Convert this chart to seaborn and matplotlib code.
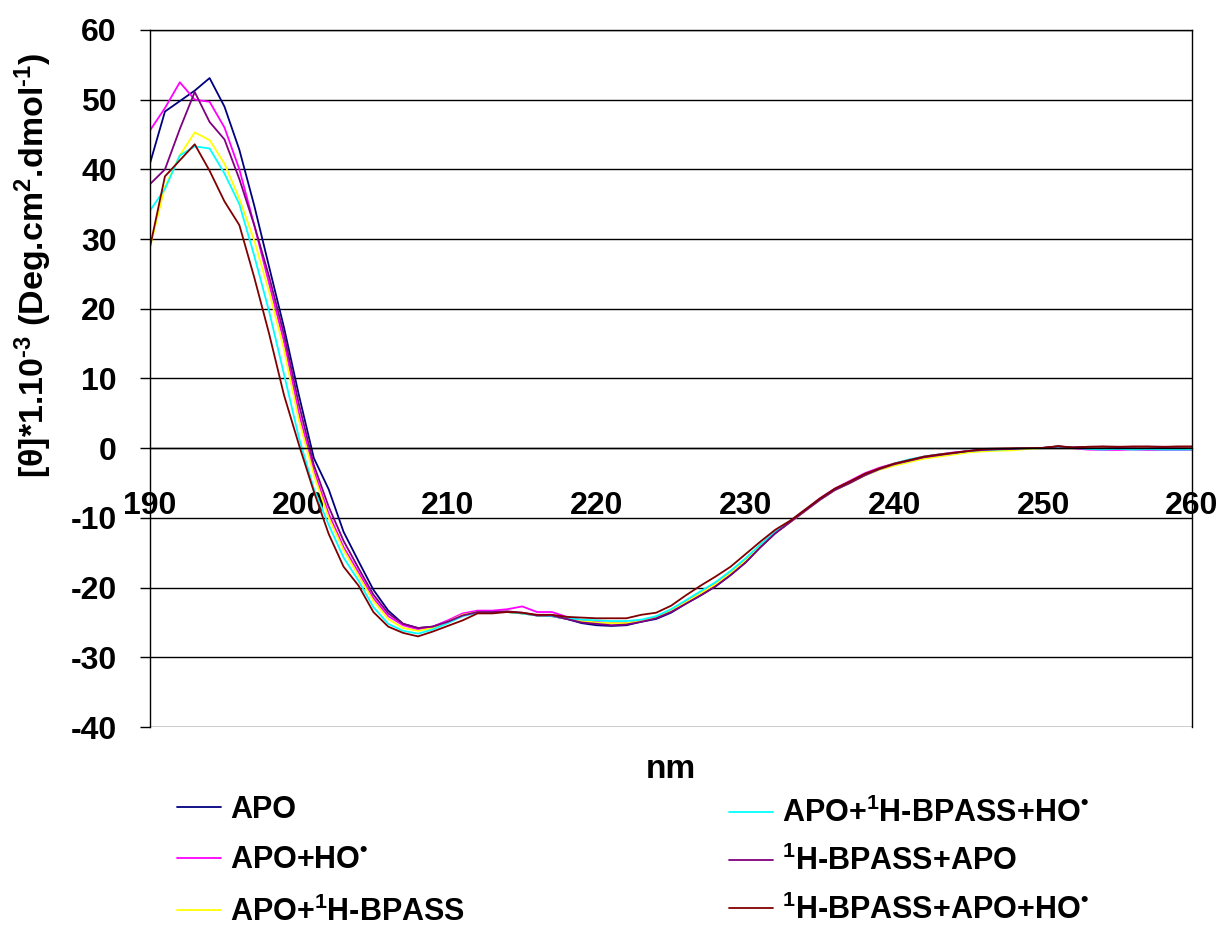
#!/usr/bin/env python3

import pandas as pd
import matplotlib
matplotlib.use("Agg")
import matplotlib.pyplot as plt
import seaborn as sns

# wavelength (nm) and molar ellipticity *1e-3
nm = list(range(190, 261))

apo = [40.9, 48.3, 49.8, 51.3, 53.1, 49.0, 42.8, 34.8, 26.0, 17.3,
       7.6, -1.4, -5.9, -12.0, -16.2, -20.3, -23.3, -25.2, -25.8, -25.6,
       -24.8, -23.9, -23.5, -23.5, -23.5, -23.7, -24.0, -24.1, -24.5, -25.1,
       -25.4, -25.5, -25.4, -24.9, -24.5, -23.6, -22.3, -21.1, -19.8, -18.2,
       -16.4, -14.2, -12.2, -10.6, -9.0, -7.4, -6.0, -5.0, -3.9, -3.0,
       -2.3, -1.8, -1.3, -1.0, -0.7, -0.4, -0.25, -0.15, -0.1, 0.0,
       0.05, 0.25, 0.1, 0.15, 0.2, 0.2, 0.15, 0.2, 0.2, 0.15, 0.2]

apo_ho = [45.6, 48.8, 52.5, 50.0, 49.7, 46.0, 40.0, 32.0, 23.6, 15.3,
          5.0, -3.2, -9.4, -14.2, -17.8, -21.5, -24.1, -25.4, -26.0, -25.6,
          -24.7, -23.7, -23.3, -23.3, -23.1, -22.7, -23.5, -23.5, -24.2, -24.7,
          -24.9, -25.1, -25.1, -24.8, -24.3, -23.3, -22.0, -20.8, -19.4, -17.8,
          -16.0, -13.9, -12.0, -10.5, -8.9, -7.2, -5.8, -4.7, -3.6, -2.8,
          -2.2, -1.7, -1.2, -0.9, -0.6, -0.4, -0.25, -0.15, -0.1, 0.0,
          0.0, 0.2, 0.0, -0.2, -0.25, -0.25, -0.2, -0.25, -0.25, -0.25, -0.25]

apo_bpass = [28.9, 37.5, 42.0, 45.3, 44.2, 40.8, 35.8, 29.8, 22.4, 14.1,
             4.0, -3.8, -10.0, -14.6, -18.3, -21.9, -24.5, -25.8, -26.2, -25.8,
             -24.9, -23.9, -23.5, -23.5, -23.5, -23.7, -24.0, -24.1, -24.4, -24.8,
             -25.0, -25.1, -25.1, -24.8, -24.3, -23.3, -22.1, -20.8, -19.5, -17.9,
             -16.1, -14.0, -12.1, -10.6, -9.0, -7.4, -6.0, -5.0, -3.9, -3.1,
             -2.5, -2.0, -1.5, -1.2, -0.9, -0.6, -0.45, -0.35, -0.3, -0.1,
             0.0, 0.2, 0.0, 0.05, 0.1, 0.05, 0.0, 0.1, 0.05, 0.0, 0.05]

apo_bpass_ho = [34.1, 37.2, 42.0, 43.3, 43.0, 39.4, 35.0, 27.6, 19.6, 10.6,
                1.5, -5.8, -11.0, -15.7, -19.0, -22.8, -25.2, -26.2, -26.6, -26.0,
                -25.1, -24.1, -23.6, -23.5, -23.5, -23.7, -24.0, -24.1, -24.4, -24.6,
                -24.7, -24.8, -24.8, -24.6, -24.1, -23.1, -21.8, -20.5, -19.2, -17.6,
                -15.8, -13.8, -12.0, -10.5, -8.9, -7.3, -5.9, -4.9, -3.8, -3.0,
                -2.2, -1.6, -1.2, -0.9, -0.7, -0.4, -0.25, -0.2, -0.1, 0.0,
                0.0, 0.2, 0.05, -0.1, -0.2, -0.1, -0.2, -0.15, -0.2, -0.2, -0.2]

bpass_apo = [37.9, 40.0, 45.8, 51.1, 46.8, 44.3, 38.6, 32.0, 24.6, 16.3,
             6.3, -2.4, -8.4, -13.3, -17.2, -21.0, -23.7, -25.2, -25.8, -25.6,
             -24.9, -24.0, -23.5, -23.5, -23.4, -23.6, -24.0, -24.0, -24.5, -25.0,
             -25.2, -25.4, -25.3, -24.9, -24.4, -23.5, -22.3, -21.1, -19.8, -18.2,
             -16.4, -14.2, -12.2, -10.6, -9.0, -7.4, -6.0, -5.0, -3.9, -3.0,
             -2.3, -1.8, -1.3, -1.0, -0.7, -0.4, -0.25, -0.15, -0.1, 0.0,
             0.05, 0.25, 0.1, 0.2, 0.2, 0.15, 0.2, 0.2, 0.15, 0.2, 0.2]

bpass_apo_ho = [28.9, 39.0, 41.3, 43.6, 39.8, 35.4, 32.0, 24.5, 16.4, 7.6,
                0.5, -6.2, -12.3, -17.0, -19.7, -23.5, -25.6, -26.5, -27.0, -26.3,
                -25.5, -24.7, -23.7, -23.7, -23.5, -23.6, -23.9, -23.9, -24.2, -24.3,
                -24.4, -24.4, -24.4, -23.9, -23.6, -22.6, -21.1, -19.7, -18.4, -17.0,
                -15.2, -13.4, -11.7, -10.4, -8.8, -7.2, -5.8, -4.8, -3.7, -2.9,
                -2.2, -1.7, -1.2, -0.9, -0.65, -0.4, -0.1, -0.05, 0.0, 0.0,
                0.05, 0.3, 0.1, 0.2, 0.25, 0.2, 0.25, 0.25, 0.2, 0.25, 0.25]

labels = [
    "APO",
    "APO+HO$^{•}$",
    "APO+$^{1}$H-BPASS",
    "APO+$^{1}$H-BPASS+HO$^{•}$",
    "$^{1}$H-BPASS+APO",
    "$^{1}$H-BPASS+APO+HO$^{•}$",
]
colors = ["#000080", "#FF00FF", "#FFFF00", "#00FFFF", "#800080", "#800000"]
series = [apo, apo_ho, apo_bpass, apo_bpass_ho, bpass_apo, bpass_apo_ho]

df = pd.concat(
    [pd.DataFrame({"nm": nm, "theta": vals, "sample": lab})
     for lab, vals in zip(labels, series)],
    ignore_index=True,
)

sns.set_style("white")
plt.rcParams["font.family"] = ["Liberation Sans", "DejaVu Sans"]
plt.rcParams["font.weight"] = "bold"
plt.rcParams["text.color"] = "black"
plt.rcParams["axes.labelcolor"] = "black"
plt.rcParams["xtick.color"] = "black"
plt.rcParams["ytick.color"] = "black"
plt.rcParams["axes.unicode_minus"] = False
plt.rcParams["mathtext.fontset"] = "custom"
plt.rcParams["mathtext.rm"] = "Liberation Sans:bold"
plt.rcParams["mathtext.it"] = "Liberation Sans:bold"
plt.rcParams["mathtext.bf"] = "Liberation Sans:bold"

fig, ax = plt.subplots(figsize=(12.21, 9.31), dpi=100)
fig.subplots_adjust(left=0.1229, right=0.9763, top=0.9678, bottom=0.2191)

sns.lineplot(data=df, x="nm", y="theta", hue="sample", hue_order=labels,
             palette=colors, estimator=None, sort=False, linewidth=1.3,
             legend=False, ax=ax)

ax.set_xlim(190, 260)
ax.set_ylim(-40, 60)
ax.set_xticks(range(190, 261, 10))
ax.set_yticks(range(-40, 61, 10))
ax.set_axisbelow(True)
ax.yaxis.grid(True, color="black", linewidth=1)
ax.xaxis.grid(False)
for s in ax.spines.values():
    s.set_color("black")
    s.set_linewidth(1)
ax.spines["bottom"].set_position(("data", 0))

ax.tick_params(axis="x", direction="out", length=9.5, width=1, pad=21,
               labelsize=23, colors="black")
ax.tick_params(axis="y", direction="out", length=7, width=1, pad=17,
               labelsize=23, colors="black", left=True)
for t in ax.get_xticklabels() + ax.get_yticklabels():
    t.set_fontweight("bold")

ax.set_xlabel("nm", fontsize=24, fontweight="bold")
ax.xaxis.set_label_coords(0.5, -0.038)
ax.set_ylabel("[θ]*1.10$^{\u20103}$ (Deg.cm$^{2}$.dmol$^{\u20101}$)",
              fontsize=24.5, fontweight="bold")
ax.yaxis.set_label_coords(-0.092, 0.663)

lines = ax.get_lines()
fig.legend(lines[:3], labels[:3], loc="upper left",
           bbox_to_anchor=(177 / 1221, 1 - 795 / 931), frameon=False,
           fontsize=22, handlelength=1.45, handletextpad=0.3,
           labelspacing=0.68, borderpad=0, borderaxespad=0)
fig.legend(lines[3:], labels[3:], loc="upper left",
           bbox_to_anchor=(729 / 1221, 1 - 798 / 931), frameon=False,
           fontsize=22, handlelength=1.45, handletextpad=0.3,
           labelspacing=0.55, borderpad=0, borderaxespad=0)

plt.savefig("out.png", dpi=100)
